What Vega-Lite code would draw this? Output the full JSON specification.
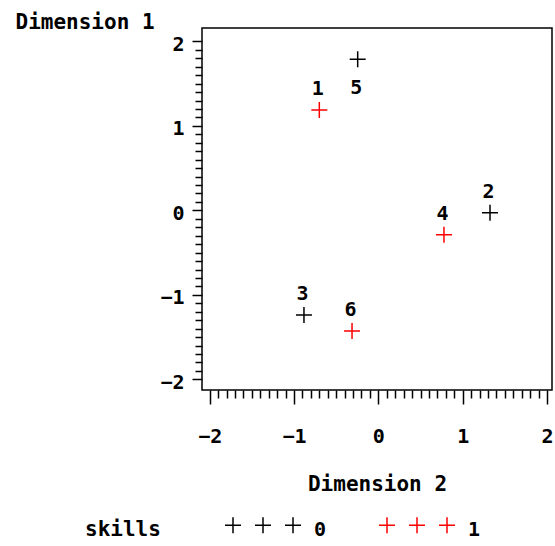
{
  "$schema": "https://vega.github.io/schema/vega-lite/v6.json",
  "autosize": {"type": "none"},
  "padding": {"left": 202, "top": 28, "right": 3, "bottom": 156},
  "width": 350,
  "height": 362,
  "background": "white",
  "config": {
    "view": {"stroke": "black", "strokeWidth": 1.5},
    "font": "DejaVu Sans Mono"
  },
  "data": {
    "values": [
      {"id": 1, "dim2": -0.700, "dim1": 1.188, "skills": "1"},
      {"id": 2, "dim2": 1.324, "dim1": -0.028, "skills": "0"},
      {"id": 3, "dim2": -0.882, "dim1": -1.238, "skills": "0"},
      {"id": 4, "dim2": 0.778, "dim1": -0.288, "skills": "1"},
      {"id": 5, "dim2": -0.245, "dim1": 1.788, "skills": "0"},
      {"id": 6, "dim2": -0.312, "dim1": -1.428, "skills": "1"}
    ]
  },
  "encoding": {
    "x": {
      "field": "dim2", "type": "quantitative",
      "scale": {"domain": [-2.091, 2.059], "nice": false, "zero": false},
      "axis": {
        "title": "Dimension 2",
        "titleFont": "DejaVu Sans Mono", "titleFontSize": 21, "titleFontWeight": "bold", "titleColor": "black",
        "titleY": 94, "titleBaseline": "middle",
        "values": [-2,-1.9,-1.8,-1.7,-1.6,-1.5,-1.4,-1.3,-1.2,-1.1,-1,-0.9,-0.8,-0.7,-0.6,-0.5,-0.4,-0.3,-0.2,-0.1,0,0.1,0.2,0.3,0.4,0.5,0.6,0.7,0.8,0.9,1,1.1,1.2,1.3,1.4,1.5,1.6,1.7,1.8,1.9,2],
        "tickSize": {"condition": {"test": "abs(datum.value - round(datum.value)) < 0.001", "value": 14}, "value": 8},
        "tickWidth": 1.5, "tickColor": "black",
        "labelExpr": "abs(datum.value - round(datum.value)) < 0.001 ? format(datum.value, 'd') : ''",
        "labelFont": "DejaVu Sans Mono", "labelFontSize": 20, "labelFontWeight": "bold", "labelColor": "black",
        "labelPadding": 22, "labelOverlap": false, "labelFlush": false, "labelBound": false,
        "domain": false, "grid": false
      }
    },
    "y": {
      "field": "dim1", "type": "quantitative",
      "scale": {"domain": [-2.126, 2.158], "nice": false, "zero": false},
      "axis": {
        "title": "Dimension 1",
        "titleFont": "DejaVu Sans Mono", "titleFontSize": 21, "titleFontWeight": "bold", "titleColor": "black",
        "titleAngle": 0, "titleAlign": "left", "titleBaseline": "middle", "titleX": -187, "titleY": -6,
        "values": [-2,-1.9,-1.8,-1.7,-1.6,-1.5,-1.4,-1.3,-1.2,-1.1,-1,-0.9,-0.8,-0.7,-0.6,-0.5,-0.4,-0.3,-0.2,-0.1,0,0.1,0.2,0.3,0.4,0.5,0.6,0.7,0.8,0.9,1,1.1,1.2,1.3,1.4,1.5,1.6,1.7,1.8,1.9,2],
        "tickSize": {"condition": {"test": "abs(datum.value - round(datum.value)) < 0.001", "value": 10}, "value": 7},
        "tickWidth": 1.5, "tickColor": "black",
        "labelExpr": "abs(datum.value - round(datum.value)) < 0.001 ? format(datum.value, 'd') : ''",
        "labelFont": "DejaVu Sans Mono", "labelFontSize": 20, "labelFontWeight": "bold", "labelColor": "black",
        "labelPadding": 8, "labelOffset": 3, "labelOverlap": false, "labelFlush": false, "labelBound": false,
        "domain": false, "grid": false
      }
    }
  },
  "layer": [
    {
      "mark": {"type": "point", "shape": "M-1,0H1M0,-1V1", "filled": false, "size": 256, "strokeWidth": 1.5, "opacity": 1},
      "encoding": {
        "color": {
          "field": "skills", "type": "nominal",
          "scale": {"domain": ["0", "1"], "range": ["#000000", "#ff0000"]},
          "legend": {
            "title": "skills",
            "orient": "none", "legendX": -117, "legendY": 492, "direction": "horizontal",
            "titleOrient": "left", "titleFont": "DejaVu Sans Mono", "titleFontSize": 21, "titleFontWeight": "bold", "titleColor": "black",
            "titlePadding": 92, "titleBaseline": "middle",
            "symbolType": "M-4.75,-0.6H-2.75M-3.75,-1.6V0.4M-1,-0.6H1M0,-1.6V0.4M2.75,-0.6H4.75M3.75,-1.6V0.4",
            "symbolSize": 256, "symbolStrokeWidth": 1.5,
            "labelFont": "DejaVu Sans Mono", "labelFontSize": 20, "labelFontWeight": "bold", "labelColor": "black",
            "labelOffset": 41, "columnPadding": 49, "padding": 0
          }
        }
      }
    },
    {
      "transform": [{"filter": "datum.id != 5"}],
      "mark": {"type": "text", "font": "DejaVu Sans Mono", "fontSize": 20, "fontWeight": "bold", "color": "black", "dy": -21, "dx": -1.5, "baseline": "middle", "align": "center"},
      "encoding": {"text": {"field": "id", "type": "nominal"}}
    },
    {
      "transform": [{"filter": "datum.id == 5"}],
      "mark": {"type": "text", "font": "DejaVu Sans Mono", "fontSize": 20, "fontWeight": "bold", "color": "black", "dy": 29, "dx": -1.5, "baseline": "middle", "align": "center"},
      "encoding": {"text": {"field": "id", "type": "nominal"}}
    }
  ]
}
